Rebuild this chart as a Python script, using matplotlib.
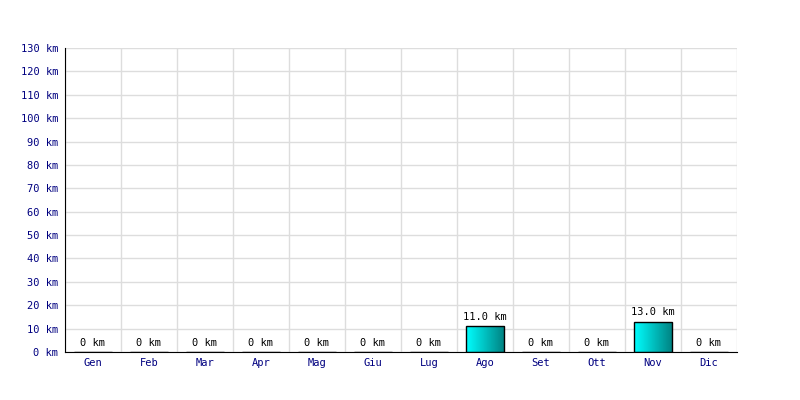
import numpy as np
import matplotlib
matplotlib.use("Agg")
import matplotlib.pyplot as plt
from matplotlib.colors import LinearSegmentedColormap

months = ["Gen", "Feb", "Mar", "Apr", "Mag", "Giu", "Lug", "Ago", "Set", "Ott", "Nov", "Dic"]
values = [0, 0, 0, 0, 0, 0, 0, 11.0, 0, 0, 13.0, 0]
yticks = list(range(0, 131, 10))

plt.rcParams['font.family'] = ['DejaVu Sans Mono']
fig = plt.figure(figsize=(8, 4), dpi=100)
ax = fig.add_axes([65/800, 1-352/400, 672/800, 304/400])
ax.set_xlim(0, 12)
ax.set_ylim(0, 130)

cmap = LinearSegmentedColormap.from_list("g", ["#00ffff", "#008080"])
grad = np.linspace(0, 1, 256).reshape(1, -1)
x = np.arange(12) + 0.5
w = 0.68
bars = ax.bar(x, values, width=w, color="none", edgecolor="black", linewidth=1, zorder=3)
for b, v in zip(bars, values):
    if v > 0:
        x0, y0 = b.get_x(), b.get_y()
        im = ax.imshow(grad, cmap=cmap, aspect="auto",
                       extent=[x0, x0 + b.get_width(), y0, y0 + b.get_height()], zorder=2)
        im.set_clip_path(b)
    label = f"{v:.1f} km" if v > 0 else "0 km"
    ax.text(b.get_x() + b.get_width()/2, v + 1.8, label, ha="center", va="bottom",
            fontsize=7.5, color="black", zorder=4)

ax.set_xticks(x)
ax.set_xticklabels(months)
ax.set_yticks(yticks)
ax.set_yticklabels([f"{t} km" for t in yticks])
ax.set_xticks(np.arange(0, 13), minor=True)
ax.grid(True, which="minor", axis="x", color="#dddddd", linewidth=1, zorder=0)
ax.grid(True, which="major", axis="y", color="#dddddd", linewidth=1, zorder=0)
ax.tick_params(axis="both", which="both", length=0, labelsize=7.5, labelcolor="#000080")
ax.tick_params(axis="y", pad=5)
ax.tick_params(axis="x", pad=4)
ax.spines["top"].set_visible(False)
ax.spines["right"].set_visible(False)
ax.spines["left"].set_color("black")
ax.spines["bottom"].set_color("black")
ax.set_axisbelow(True)
fig.savefig("out.png", dpi=100)
